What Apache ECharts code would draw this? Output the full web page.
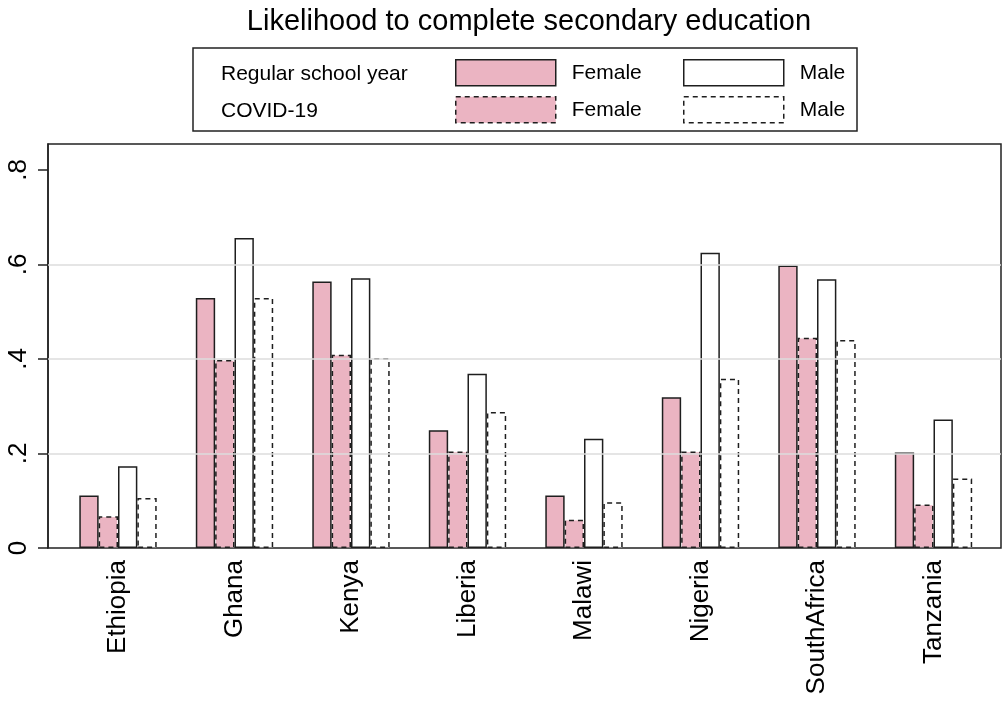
<!DOCTYPE html>
<html>
<head>
<meta charset="utf-8">
<script src="https://cdn.jsdelivr.net/npm/echarts@6/dist/echarts.min.js"></script>
<style>
html,body{margin:0;padding:0;background:#fff;}
#chart{width:1004px;height:702px;}
</style>
</head>
<body>
<div id="chart"></div>
<script>
const categories = ['Ethiopia','Ghana','Kenya','Liberia','Malawi','Nigeria','SouthAfrica','Tanzania'];
const regularFemale = [0.111, 0.529, 0.564, 0.249, 0.111, 0.319, 0.598, 0.202];
const covidFemale   = [0.067, 0.398, 0.409, 0.204, 0.060, 0.204, 0.445, 0.092];
const regularMale   = [0.173, 0.656, 0.571, 0.369, 0.231, 0.625, 0.569, 0.272];
const covidMale     = [0.106, 0.529, 0.402, 0.288, 0.097, 0.358, 0.440, 0.147];
const yTicks = [0, 0.2, 0.4, 0.6, 0.8];
const gridValues = [0.2, 0.4, 0.6];
const titleText = 'Likelihood to complete secondary education';
const rowLabels = ['Regular school year', 'COVID-19'];

const FONT = "'Liberation Sans', Arial, sans-serif";
const PINK = '#ebb4c2';
const EDGE = '#1e1e1e';
const YMAX = 0.855;
const DASH = [5, 4];

const chart = echarts.init(document.getElementById('chart'), null, {renderer: 'canvas'});

function barSeries(name, data, fill, dashed) {
  return {
    name: name, type: 'bar', xAxisIndex: 1, yAxisIndex: 1,
    data: data, barWidth: 19.35, barGap: '0%',
    itemStyle: {color: fill, borderColor: EDGE, borderWidth: 1.5,
      borderType: dashed ? DASH : 'solid'},
    emphasis: {disabled: true}
  };
}

function legendAt(name, left, top, dashed) {
  return {
    data: [name], left: left, top: top, padding: 0,
    itemWidth: 100, itemHeight: 26, icon: 'rect',
    formatter: n => n.split(' ')[0],
    itemStyle: {borderColor: EDGE, borderWidth: 1.5, borderType: dashed ? DASH : 'solid'},
    textStyle: {fontSize: 21, fontFamily: FONT, color: '#000', padding: [0, 0, 0, 11]},
    selectedMode: false
  };
}

chart.setOption({
  animation: false,
  backgroundColor: '#fff',
  title: {
    text: titleText, left: 524, top: 2, textAlign: 'center',
    textStyle: {fontSize: 29, fontWeight: 'normal', fontFamily: FONT, color: '#000'}
  },
  legend: [
    legendAt('Female (regular)', 455, 59, false),
    legendAt('Male (regular)', 683, 59, false),
    legendAt('Female (COVID-19)', 455, 96, true),
    legendAt('Male (COVID-19)', 683, 96, true)
  ],
  graphic: [
    {type: 'rect', shape: {x: 193, y: 48, width: 664, height: 83},
     style: {fill: 'none', stroke: '#222', lineWidth: 1.5}, silent: true},
    {type: 'text', left: 221, top: 64,
     style: {text: rowLabels[0], font: '21px ' + FONT, fill: '#000'}},
    {type: 'text', left: 221, top: 101,
     style: {text: rowLabels[1], font: '21px ' + FONT, fill: '#000'}}
  ],
  grid: [
    {left: 48, right: 3, top: 144, bottom: 154, show: true,
     borderColor: '#222', borderWidth: 1.5, backgroundColor: 'transparent'},
    {left: 59.75, right: 12.25, top: 144, bottom: 154}
  ],
  xAxis: [
    {gridIndex: 0, type: 'value', min: 0, max: 1, show: false},
    {gridIndex: 1, type: 'category', data: categories,
     axisLine: {show: false}, axisTick: {show: false},
     axisLabel: {rotate: 90, fontSize: 26, fontFamily: FONT, color: '#000', margin: 12, interval: 0}}
  ],
  yAxis: [
    {gridIndex: 0, type: 'value', min: 0, max: YMAX,
     axisLine: {show: true, lineStyle: {color: '#222', width: 1.5}},
     axisTick: {show: true, length: 10, customValues: yTicks, lineStyle: {color: '#222', width: 1.5}},
     axisLabel: {show: true, customValues: yTicks, rotate: 90, fontSize: 26, fontFamily: FONT,
       color: '#000', margin: 16,
       formatter: v => v === 0 ? '0' : String(+v.toFixed(1)).replace(/^0/, '')},
     splitLine: {show: false}},
    {gridIndex: 1, type: 'value', min: 0, max: YMAX, show: false, splitLine: {show: false}}
  ],
  series: [
    {type: 'line', xAxisIndex: 0, yAxisIndex: 0, data: [], silent: true,
     markLine: {silent: true, symbol: ['none', 'none'], label: {show: false},
       lineStyle: {color: '#dcdcdc', width: 1.5, type: 'solid'},
       data: gridValues.map(v => ({yAxis: v})), animation: false}},
    barSeries('Female (regular)', regularFemale, PINK, false),
    barSeries('Female (COVID-19)', covidFemale, PINK, true),
    barSeries('Male (regular)', regularMale, '#fff', false),
    barSeries('Male (COVID-19)', covidMale, '#fff', true)
  ]
});
</script>
</body>
</html>
